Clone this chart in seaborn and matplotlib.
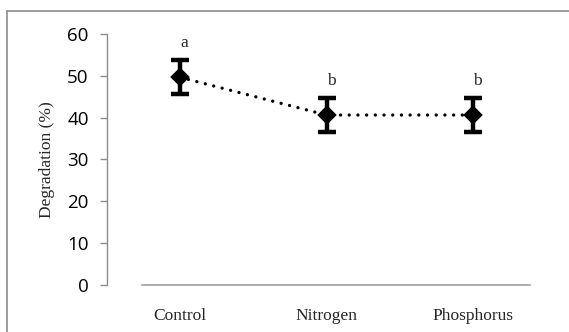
import matplotlib
matplotlib.use("Agg")
import matplotlib.pyplot as plt
from matplotlib.lines import Line2D
import seaborn as sns
import pandas as pd

# Treatment means with standard errors and significance groups
treatments = ["Control", "Nitrogen", "Phosphorus"]
degradation = [49.6, 40.6, 40.6]
std_err = [4.1, 4.0, 4.0]
groups = ["a", "b", "b"]
y_ticks = [0, 10, 20, 30, 40, 50, 60]

df = pd.DataFrame({"Treatment": treatments, "Degradation": degradation})

sns.set_style("white")
plt.rcParams["font.family"] = ["Liberation Serif", "DejaVu Serif"]

fig = plt.figure(figsize=(5.69, 3.32), dpi=100)
ax = fig.add_axes([0.1875, 0.1407, 0.7730, 0.7578])

# Outer frame lines of the figure panel
fig.add_artist(Line2D([7 / 569, 1.0], [1 - 11 / 332] * 2, color="#8c8c8c", lw=1.2))
fig.add_artist(Line2D([7 / 569] * 2, [0.0, 1 - 11 / 332], color="#8c8c8c", lw=1.2))

sns.pointplot(data=df, x="Treatment", y="Degradation", errorbar=None,
              color="black", markers="D", linestyles=":", ax=ax,
              markersize=8.5, linewidth=2.4)
# dotted connector drawn as round dots
for line in ax.lines:
    line.set_dashes([0.01, 2.6])
    line.set_dash_capstyle("round")

ax.errorbar(range(len(treatments)), degradation, yerr=std_err, fmt="none",
            ecolor="black", elinewidth=3.2, capsize=6.5, capthick=3.2, zorder=4)

for i, (v, e, g) in enumerate(zip(degradation, std_err, groups)):
    ax.text(i + 0.03, v + e + 2.2, g, ha="center", va="bottom", fontsize=12.5,
            family=["Liberation Serif"])

ax.set_xlim(-0.5, 2.5)
ax.set_ylim(0, 60)
ax.set_yticks(y_ticks)
ax.set_yticklabels([str(t) for t in y_ticks], family=["Open Sans"],
                   fontsize=13.5, color="#000000")
ax.set_xticks(range(len(treatments)))
ax.set_xticklabels(treatments, fontsize=12.5)
ax.tick_params(axis="y", length=5, width=1, color="#8c8c8c", pad=8, left=True)
ax.tick_params(axis="x", length=0, pad=16)
ax.set_xlabel("")
ax.set_ylabel("Degradation (%)", fontsize=12.5, labelpad=9)

for side in ["top", "right"]:
    ax.spines[side].set_visible(False)
ax.spines["left"].set_color("#8c8c8c")
ax.spines["left"].set_linewidth(1)
ax.spines["bottom"].set_color("#a0a0a0")
ax.spines["bottom"].set_linewidth(1.2)
ax.spines["bottom"].set_bounds(-0.26, 2.39)

fig.savefig("out.png", dpi=100)
